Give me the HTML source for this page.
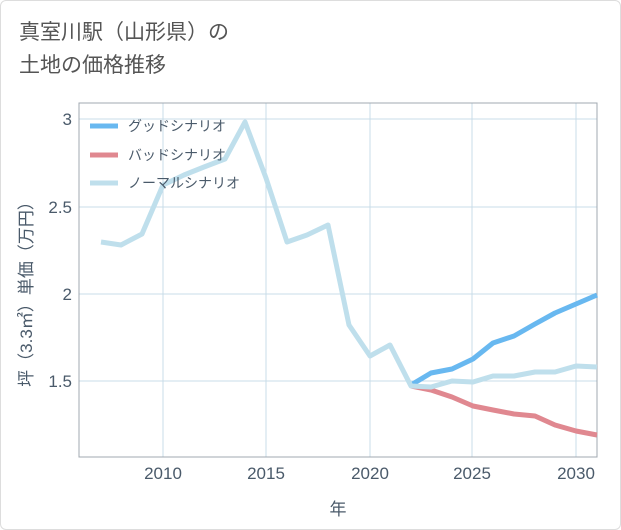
<!DOCTYPE html>
<html><head><meta charset="utf-8"><style>
body{margin:0;background:#fff;}
.w{position:relative;width:619px;height:528px;border:1px solid #ddd;border-radius:6px;background:#fff;font-family:"Liberation Sans","Noto Sans CJK JP",sans-serif;}
.t{position:absolute;left:18px;top:15px;font-size:21px;line-height:33px;color:#555;}
</style></head><body><div class="w">
<div class="t">真室川駅（山形県）の<br>土地の価格推移</div>
<svg width="621" height="530" style="position:absolute;left:-1px;top:-1px" font-family="Liberation Sans, Noto Sans CJK JP, sans-serif">
<g stroke="#c8dce8" stroke-width="1">
<line x1="163" y1="103" x2="163" y2="457"/><line x1="266" y1="103" x2="266" y2="457"/><line x1="370" y1="103" x2="370" y2="457"/><line x1="472" y1="103" x2="472" y2="457"/><line x1="576" y1="103" x2="576" y2="457"/>
<line x1="79" y1="119" x2="597" y2="119"/><line x1="79" y1="207" x2="597" y2="207"/><line x1="79" y1="294" x2="597" y2="294"/><line x1="79" y1="381" x2="597" y2="381"/>
</g>
<rect x="79" y="103" width="518" height="354" fill="none" stroke="#a0a8b0" stroke-width="1"/>
<g fill="#4a5a6a" font-size="17" text-anchor="end">
<text x="72" y="125">3</text><text x="72" y="213">2.5</text><text x="72" y="300">2</text><text x="72" y="387">1.5</text></g>
<g fill="#4a5a6a" font-size="17" text-anchor="middle">
<text x="163" y="479">2010</text><text x="266" y="479">2015</text><text x="370" y="479">2020</text><text x="472" y="479">2025</text><text x="576" y="479">2030</text>
<text x="338" y="515">年</text></g>
<text transform="translate(32,290) rotate(-90)" fill="#4a5a6a" font-size="17" text-anchor="middle">坪（3.3㎡）単価（万円）</text>
<g fill="none" stroke-width="5" stroke-linejoin="round">
<polyline stroke="#e08890" points="411,386 431,390 452,397 473,406 493,410 514,414 535,416 555,425 576,431 597,435"/>
<polyline stroke="#68b8f0" points="411,385 431,373 452,369 473,359 493,343 514,336 535,324 555,313 576,304 597,295"/>
<polyline stroke="#bfdfec" points="101,242 121,245 142,234 163,185 184,175 204,167 225,159 245,122 266,178 287,242 307,235 328,225 349,325 370,356 390,345 411,386 431,387 452,381 473,382 493,376 514,376 535,372 555,372 576,366 597,367"/>
<line x1="90" y1="126" x2="118" y2="126" stroke="#68b8f0"/>
<line x1="90" y1="155" x2="118" y2="155" stroke="#e08890"/>
<line x1="90" y1="183" x2="118" y2="183" stroke="#bfdfec"/>
</g>
<g fill="#4a5a6a" font-size="14">
<text x="128" y="131">グッドシナリオ</text><text x="128" y="160">バッドシナリオ</text><text x="128" y="188">ノーマルシナリオ</text></g>
</svg></div></body></html>
